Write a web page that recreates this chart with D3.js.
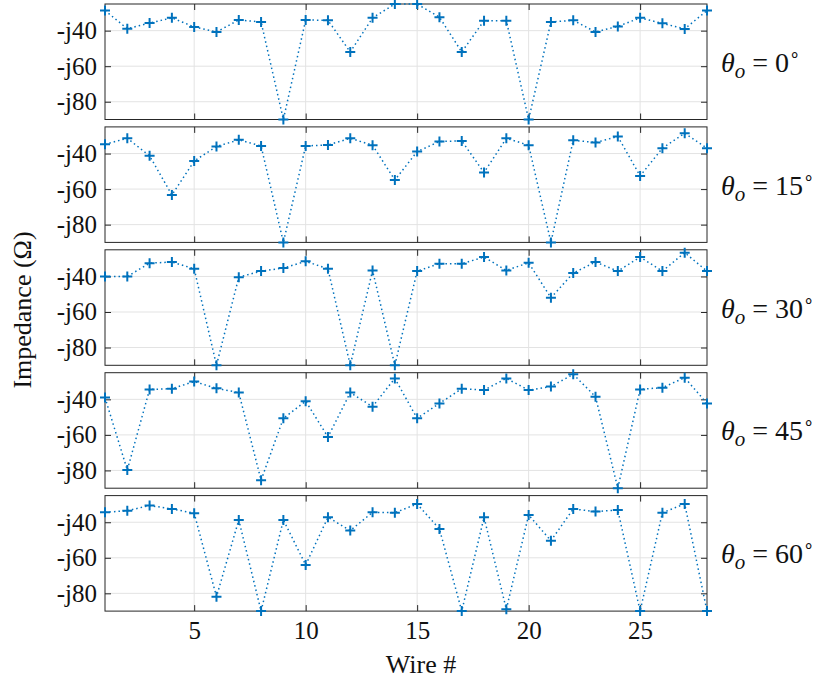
<!DOCTYPE html>
<html>
<head>
<meta charset="utf-8">
<script src="https://cdn.jsdelivr.net/npm/d3@7"></script>
<style>
    body { margin: 0; background: #fff; }
</style>
</head>
<body>
<svg id="chart" width="814" height="682"></svg>
<script>
// wire numbers 1..28
var wires = d3.range(1, 29);
var angles = [0, 15, 30, 45, 60];
var yTicks = [-80, -60, -40];
var xTicks = [5, 10, 15, 20, 25];

// imaginary part of impedance per wire, one array per incidence angle
var z0  = [-28.7, -38.9, -35.7, -32.8, -37.9, -40.7, -34.0, -35.1, -90, -34.0, -34.2, -52.0, -32.8, -25.0,
           -25.0, -32.4, -52.0, -34.4, -34.4, -90, -35.1, -34.2, -40.7, -37.6, -32.8, -35.9, -39.0, -28.7];
var z15 = [-34.8, -31.4, -41.3, -63.3, -44.2, -36.0, -32.3, -35.7, -90, -35.7, -35.2, -31.4, -35.3, -54.9,
           -38.9, -33.2, -32.9, -50.7, -31.4, -35.3, -90, -32.5, -33.8, -30.4, -52.6, -37.0, -28.6, -37.0];
var z30 = [-40.0, -40.0, -32.5, -31.9, -35.7, -90, -40.4, -37.0, -35.3, -31.5, -35.7, -90, -36.6, -90,
           -37.0, -32.8, -32.8, -29.1, -36.6, -32.3, -52.0, -38.1, -31.9, -37.0, -29.1, -37.0, -26.6, -37.0];
var z45 = [-39.0, -79.8, -34.4, -34.0, -30.0, -33.8, -36.2, -85.5, -50.7, -41.0, -61.2, -36.2, -44.1, -28.2,
           -50.7, -42.3, -34.0, -34.8, -28.2, -34.8, -32.8, -25.9, -38.5, -90, -34.4, -33.4, -27.8, -42.3];
var z60 = [-34.4, -33.5, -30.6, -32.5, -34.9, -81.9, -38.7, -90, -38.7, -64.0, -37.2, -44.7, -34.4, -34.6,
           -29.7, -43.8, -90, -37.2, -89.0, -35.9, -50.4, -32.5, -34.0, -33.1, -90, -34.6, -29.7, -90];
var series = [z0, z15, z30, z45, z60];

var blue = "#0072BD";
var serif = "Liberation Serif";
var svg = d3.select("#chart");

var left = 105, right = 707;
var panelTop = 4, panelH = 115.5, panelStep = 122.9;

var x = d3.scaleLinear().domain([1, 28]).range([left, right]);

series.forEach(function(vals, i) {
    var top = panelTop + i * panelStep;
    var y = d3.scaleLinear().domain([-90, -25]).range([top + panelH, top]);
    var g = svg.append("g");

    // grid
    g.selectAll(".gx").data(xTicks).enter().append("line")
        .attr("x1", d => x(d)).attr("x2", d => x(d))
        .attr("y1", top).attr("y2", top + panelH)
        .attr("stroke", "#e3e3e3").attr("stroke-width", 1);
    g.selectAll(".gy").data(yTicks).enter().append("line")
        .attr("x1", left).attr("x2", right)
        .attr("y1", d => y(d)).attr("y2", d => y(d))
        .attr("stroke", "#e3e3e3").attr("stroke-width", 1);

    // axes with inward ticks
    var axL = d3.axisLeft(y).tickValues(yTicks).tickSize(-6).tickPadding(8)
        .tickFormat(d => "-j" + Math.abs(d));
    var axR = d3.axisRight(y).tickValues(yTicks).tickSize(-6).tickFormat("");
    var axB = d3.axisBottom(x).tickValues(xTicks).tickSize(-6).tickPadding(10)
        .tickFormat(i === series.length - 1 ? d3.format("d") : "");
    var axT = d3.axisTop(x).tickValues(xTicks).tickSize(-6).tickFormat("");

    [[axL, "translate(" + left + ",0)"], [axR, "translate(" + right + ",0)"],
     [axB, "translate(0," + (top + panelH) + ")"], [axT, "translate(0," + top + ")"]].forEach(function(a) {
        var ag = g.append("g").attr("transform", a[1]).call(a[0]);
        ag.select(".domain").remove();
        ag.selectAll("line").attr("stroke", "#262626");
        ag.selectAll("text").attr("fill", "#111")
            .attr("font-family", serif).attr("font-size", 25);
    });

    g.append("rect").attr("x", left).attr("y", top).attr("width", right - left).attr("height", panelH)
        .attr("fill", "none").attr("stroke", "#262626").attr("stroke-width", 1);

    // data line
    var line = d3.line().x((d, j) => x(wires[j])).y(d => y(d));
    g.append("path").datum(vals).attr("d", line)
        .attr("fill", "none").attr("stroke", blue).attr("stroke-width", 1.5)
        .attr("stroke-dasharray", "1.5 3");

    // plus markers
    var m = 5;
    g.selectAll(".pt").data(vals).enter().append("path")
        .attr("d", (d, j) => {
            var cx = x(wires[j]), cy = y(d);
            return "M" + (cx - m) + "," + cy + "H" + (cx + m) + "M" + cx + "," + (cy - m) + "V" + (cy + m);
        })
        .attr("stroke", blue).attr("stroke-width", 2).attr("fill", "none");

    // angle label
    var lbl = g.append("text").attr("x", 721).attr("y", top + panelH / 2 + 10)
        .attr("font-family", serif).attr("font-size", 28).attr("fill", "#111");
    lbl.append("tspan").attr("font-style", "italic").text("θ");
    lbl.append("tspan").attr("font-style", "italic").attr("font-size", 21).attr("dy", 6).text("o");
    lbl.append("tspan").attr("dy", -6).text(" = " + angles[i]);
    lbl.append("tspan").attr("font-size", 18).attr("dy", -12).text("∘");
});

svg.append("text").attr("x", (left + right) / 2 + 15).attr("y", 673).attr("text-anchor", "middle")
    .attr("font-family", serif).attr("font-size", 26).attr("fill", "#111").text("Wire #");

svg.append("text").attr("transform", "translate(31," + 310 + ") rotate(-90)")
    .attr("text-anchor", "middle").attr("font-family", serif).attr("font-size", 26)
    .attr("fill", "#111").text("Impedance (Ω)");
</script>
</body>
</html>
